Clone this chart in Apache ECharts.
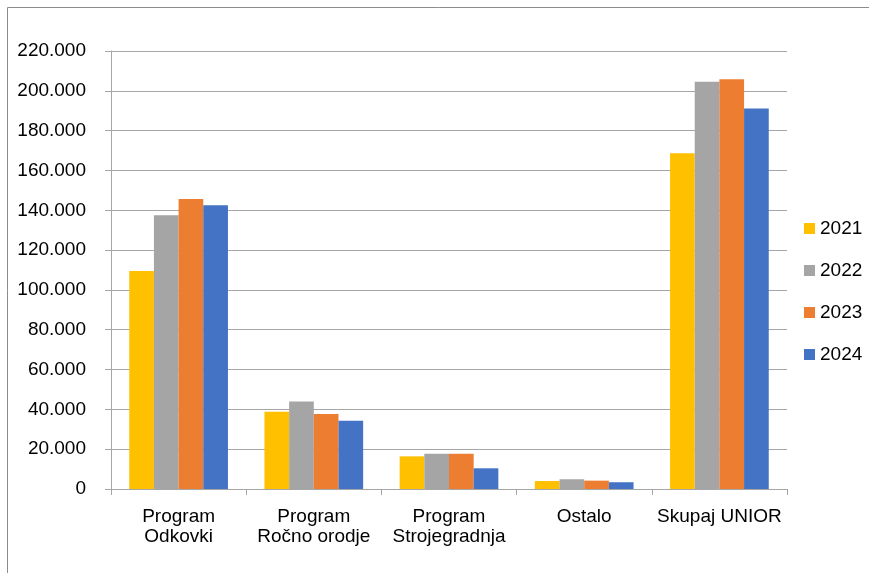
<!DOCTYPE html>
<html><head><meta charset="utf-8">
<script src="https://cdn.jsdelivr.net/npm/echarts@6/dist/echarts.min.js"></script>
<style>html,body{margin:0;padding:0;background:#fff}#c{width:869px;height:573px}</style>
</head><body><div id="c"></div>
<script>
const categories = ['Program\nOdkovki', 'Program\nRočno orodje', 'Program\nStrojegradnja', 'Ostalo', 'Skupaj UNIOR'];
const years = ['2021', '2022', '2023', '2024'];
const v2021 = [109500, 38800, 16400, 4000, 168600];
const v2022 = [137500, 44000, 17700, 4900, 204600];
const v2023 = [145600, 37700, 17700, 4200, 205800];
const v2024 = [142500, 34300, 10400, 3400, 191100];
const colors = ['#FFC000', '#A5A5A5', '#ED7D31', '#4472C4'];
const seriesValues = [v2021, v2022, v2023, v2024];

const chart = echarts.init(document.getElementById('c'), null, {renderer: 'canvas'});
const font = 'Liberation Sans, Arial, sans-serif';
chart.setOption({
  animation: false,
  graphic: [
    {type: 'line', shape: {x1: 7.5, y1: 7.5, x2: 869, y2: 7.5}, style: {stroke: '#8c8c8c', lineWidth: 1}, silent: true},
    {type: 'line', shape: {x1: 7.5, y1: 7.5, x2: 7.5, y2: 573}, style: {stroke: '#8c8c8c', lineWidth: 1}, silent: true}
  ],
  grid: {left: 111, right: 82, top: 51, bottom: 84, containLabel: false},
  legend: {
    orient: 'vertical', left: 804, top: 218, padding: 0,
    data: years, icon: 'rect', itemWidth: 11, itemHeight: 11, itemGap: 21,
    textStyle: {fontFamily: font, fontSize: 19, color: '#000', lineHeight: 21}
  },
  xAxis: {
    type: 'category', data: categories,
    axisLine: {lineStyle: {color: '#a6a6a6', width: 1}},
    axisTick: {show: true, length: 6, lineStyle: {color: '#a6a6a6'}},
    axisLabel: {fontFamily: font, fontSize: 19, color: '#000', lineHeight: 20, margin: 18, interval: 0}
  },
  yAxis: {
    type: 'value', min: 0, max: 220000, interval: 20000,
    axisLine: {show: true, lineStyle: {color: '#a6a6a6', width: 1}},
    axisTick: {show: true, length: 6, lineStyle: {color: '#a6a6a6'}},
    splitLine: {lineStyle: {color: '#a6a6a6', width: 1}},
    axisLabel: {fontFamily: font, fontSize: 19, color: '#000', margin: 25,
      formatter: v => v === 0 ? '0' : (v / 1000).toFixed(0) + '.000'}
  },
  series: years.map((y, i) => ({
    name: y, type: 'bar', data: seriesValues[i],
    itemStyle: {color: colors[i]},
    barGap: '0%', barCategoryGap: '27%'
  }))
});
</script></body></html>
